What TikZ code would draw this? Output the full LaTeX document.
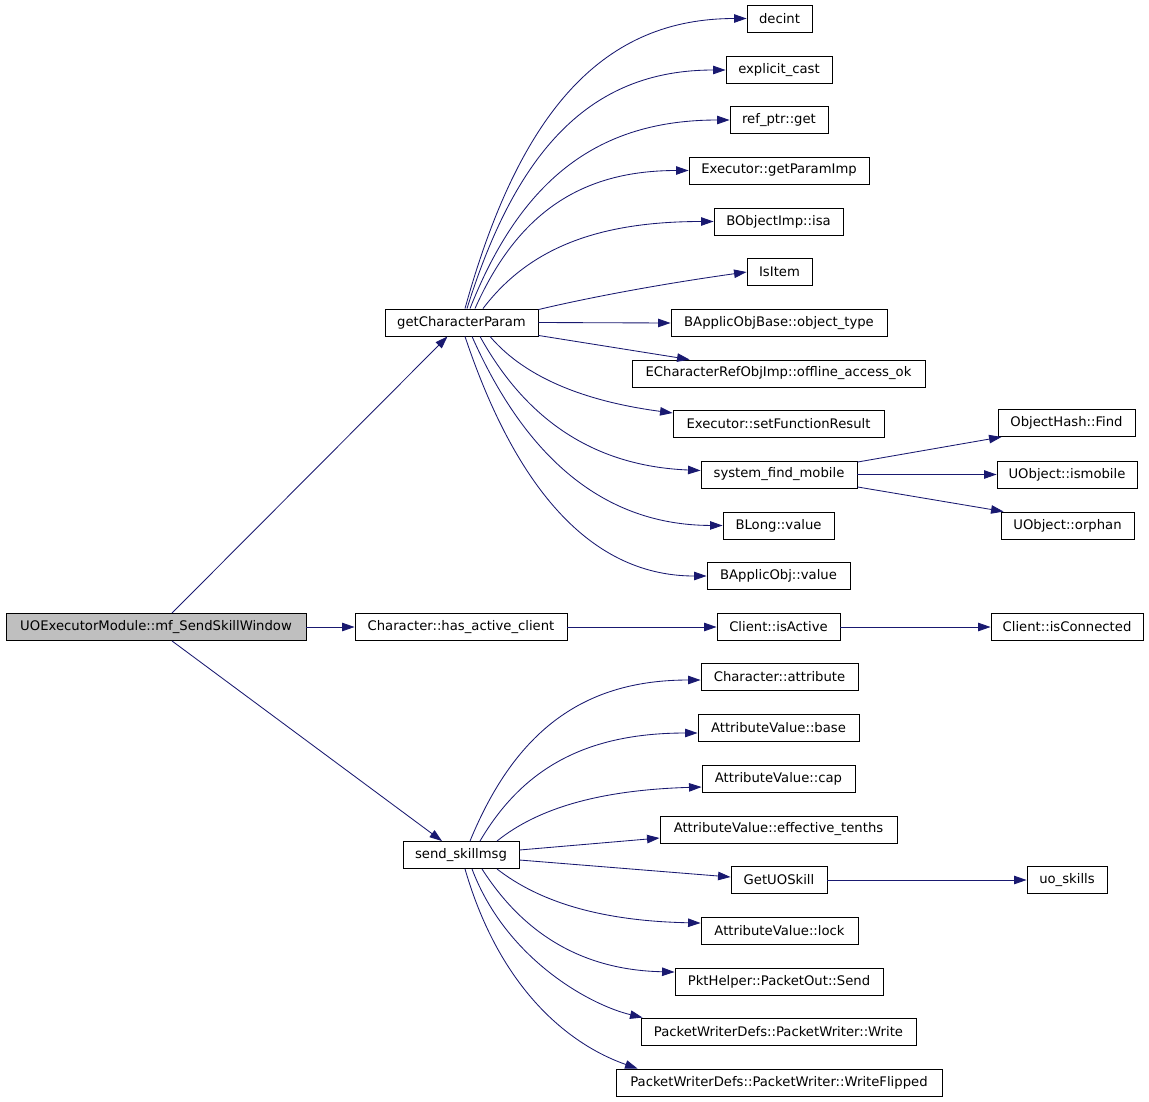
\documentclass[tikz,border=0pt]{standalone}
\usepackage{fontspec}
\setmainfont{DejaVu Sans}
\usetikzlibrary{arrows.meta}
\definecolor{edgeblue}{HTML}{191970}
\definecolor{rootgray}{HTML}{BFBFBF}
\begin{document}
\begin{tikzpicture}[x=1pt,y=-1pt,
  fn/.style={draw=black, line width=0.9pt, rectangle, inner sep=0pt, minimum height=27pt,
     font=\fontsize{13.2}{15}\selectfont, fill=white},
  rootfn/.style={fn, fill=rootgray},
  call/.style={draw=edgeblue, line width=0.85pt, -{Triangle[length=12.5pt,width=8.5pt]}, edgeblue}
]
\useasboundingbox (0,0) rectangle (1149,1101);
% nodes
\node[rootfn, minimum width=300pt] (root) at (156,627) {UOExecutorModule::mf\_SendSkillWindow};
\node[fn, minimum width=153pt] (gcp) at (461.5,322.5) {getCharacterParam};
\node[fn, minimum width=212pt] (hac) at (461,627) {Character::has\_active\_client};
\node[fn, minimum width=116pt] (ssm) at (461,855) {send\_skillmsg};

\node[fn, minimum width=65pt] (decint) at (779.5,18.5) {decint};
\node[fn, minimum width=106pt] (ecast) at (779,70) {explicit\_cast};
\node[fn, minimum width=98pt] (refget) at (779,120) {ref\_ptr::get};
\node[fn, minimum width=180pt] (gpi) at (779,170.5) {Executor::getParamImp};
\node[fn, minimum width=129pt] (isa) at (778.5,221.5) {BObjectImp::isa};
\node[fn, minimum width=65pt] (isitem) at (779.5,272) {IsItem};
\node[fn, minimum width=216pt] (otype) at (779,323) {BApplicObjBase::object\_type};
\node[fn, minimum width=293pt] (offl) at (778.5,373.5) {ECharacterRefObjImp::offline\_access\_ok};
\node[fn, minimum width=211pt] (sfr) at (778.5,424) {Executor::setFunctionResult};
\node[fn, minimum width=156pt] (sfm) at (779,474.5) {system\_find\_mobile};
\node[fn, minimum width=111pt] (blong) at (778.5,525.5) {BLong::value};
\node[fn, minimum width=143pt] (bao) at (778.5,576) {BApplicObj::value};

\node[fn, minimum width=137pt] (ohf) at (1066.5,423) {ObjectHash::Find};
\node[fn, minimum width=140pt] (ismob) at (1067,474.5) {UObject::ismobile};
\node[fn, minimum width=133pt] (orph) at (1067.5,525.5) {UObject::orphan};

\node[fn, minimum width=123pt] (isact) at (778.5,627) {Client::isActive};
\node[fn, minimum width=152pt] (iscon) at (1067,627) {Client::isConnected};

\node[fn, minimum width=157pt] (attr) at (779.5,677) {Character::attribute};
\node[fn, minimum width=161pt] (base) at (778.5,728) {AttributeValue::base};
\node[fn, minimum width=153pt] (cap) at (778.5,778.5) {AttributeValue::cap};
\node[fn, minimum width=237pt] (efft) at (778.5,829.5) {AttributeValue::effective\_tenths};
\node[fn, minimum width=96pt] (guos) at (779,880) {GetUOSkill};
\node[fn, minimum width=80pt] (uosk) at (1067,880) {uo\_skills};
\node[fn, minimum width=157pt] (lock) at (779.5,930.5) {AttributeValue::lock};
\node[fn, minimum width=208pt] (send) at (779,981.5) {PktHelper::PacketOut::Send};
\node[fn, minimum width=275pt] (pww) at (778.5,1031.5) {PacketWriterDefs::PacketWriter::Write};
\node[fn, minimum width=326pt] (pwwf) at (779,1082.5) {PacketWriterDefs::PacketWriter::WriteFlipped};

% root edges
\draw[call] ([xshift=16pt]root.north) -- ([xshift=-14pt]gcp.south);
\draw[call] (root.east) -- (hac.west);
\draw[call] ([xshift=16pt]root.south) -- ([xshift=-19pt]ssm.north);

% getCharacterParam edges
\draw[call] ([xshift=3.5pt]gcp.north) .. controls (521,106) and (606,18.5) .. (decint.west);
\draw[call] ([xshift=5.5pt]gcp.north) .. controls (519,142) and (596,70) .. (ecast.west);
\draw[call] ([xshift=8.5pt]gcp.north) .. controls (522,177) and (600,120) .. (refget.west);
\draw[call] ([xshift=13.5pt]gcp.north) .. controls (518,212) and (582,170.5) .. (gpi.west);
\draw[call] ([xshift=21.5pt]gcp.north) .. controls (529,248) and (598,221.5) .. (isa.west);
\draw[call] ([yshift=-1pt]gcp.north east) .. controls (570,302) and (640,287) .. (isitem.west);
\draw[call] (gcp.east) -- (otype.west);
\draw[call] ([yshift=1pt]gcp.south east) -- ([xshift=58pt]offl.north west);
\draw[call] ([xshift=28.5pt]gcp.south) .. controls (527,380) and (590,402) .. ([yshift=11pt]sfr.west);
\draw[call] ([xshift=18.5pt]gcp.south) .. controls (524,416) and (590,466) .. ([yshift=4pt]sfm.west);
\draw[call] ([xshift=10.5pt]gcp.south) .. controls (522,449) and (597,525) .. (blong.west);
\draw[call] ([xshift=3.5pt]gcp.south) .. controls (513,480) and (586,576) .. (bao.west);

% system_find_mobile edges
\draw[call] ([yshift=-1.5pt]sfm.north east) -- ([xshift=4pt]ohf.south west);
\draw[call] (sfm.east) -- (ismob.west);
\draw[call] ([yshift=1.5pt]sfm.south east) -- ([xshift=3pt]orph.north west);

% has_active_client chain
\draw[call] (hac.east) -- (isact.west);
\draw[call] (isact.east) -- (iscon.west);

% send_skillmsg edges
\draw[call] ([xshift=9pt]ssm.north) .. controls (516,729) and (585,680) .. ([yshift=-3pt]attr.west);
\draw[call] ([xshift=19pt]ssm.north) .. controls (524,766) and (589,733) .. ([yshift=-5pt]base.west);
\draw[call] ([xshift=36pt]ssm.north) .. controls (538,808) and (600,790) .. ([yshift=-8.5pt]cap.west);
\draw[call] ([yshift=5pt]ssm.east) -- ([yshift=-8.5pt]efft.west);
\draw[call] ([yshift=-5pt]ssm.east) -- ([yshift=3pt]guos.west);
\draw[call] ([xshift=36pt]ssm.south) .. controls (538,901) and (599,921) .. ([yshift=7.5pt]lock.west);
\draw[call] ([xshift=21pt]ssm.south) .. controls (521,930) and (578,970) .. ([yshift=9.5pt]send.west);
\draw[call] ([xshift=11pt]ssm.south) .. controls (506,959) and (590,1005) .. ([xshift=2pt]pww.north west);
\draw[call] ([xshift=4pt]ssm.south) .. controls (500,990) and (570,1045) .. ([xshift=22pt]pwwf.north west);

% GetUOSkill
\draw[call] (guos.east) -- (uosk.west);
\end{tikzpicture}
\end{document}
